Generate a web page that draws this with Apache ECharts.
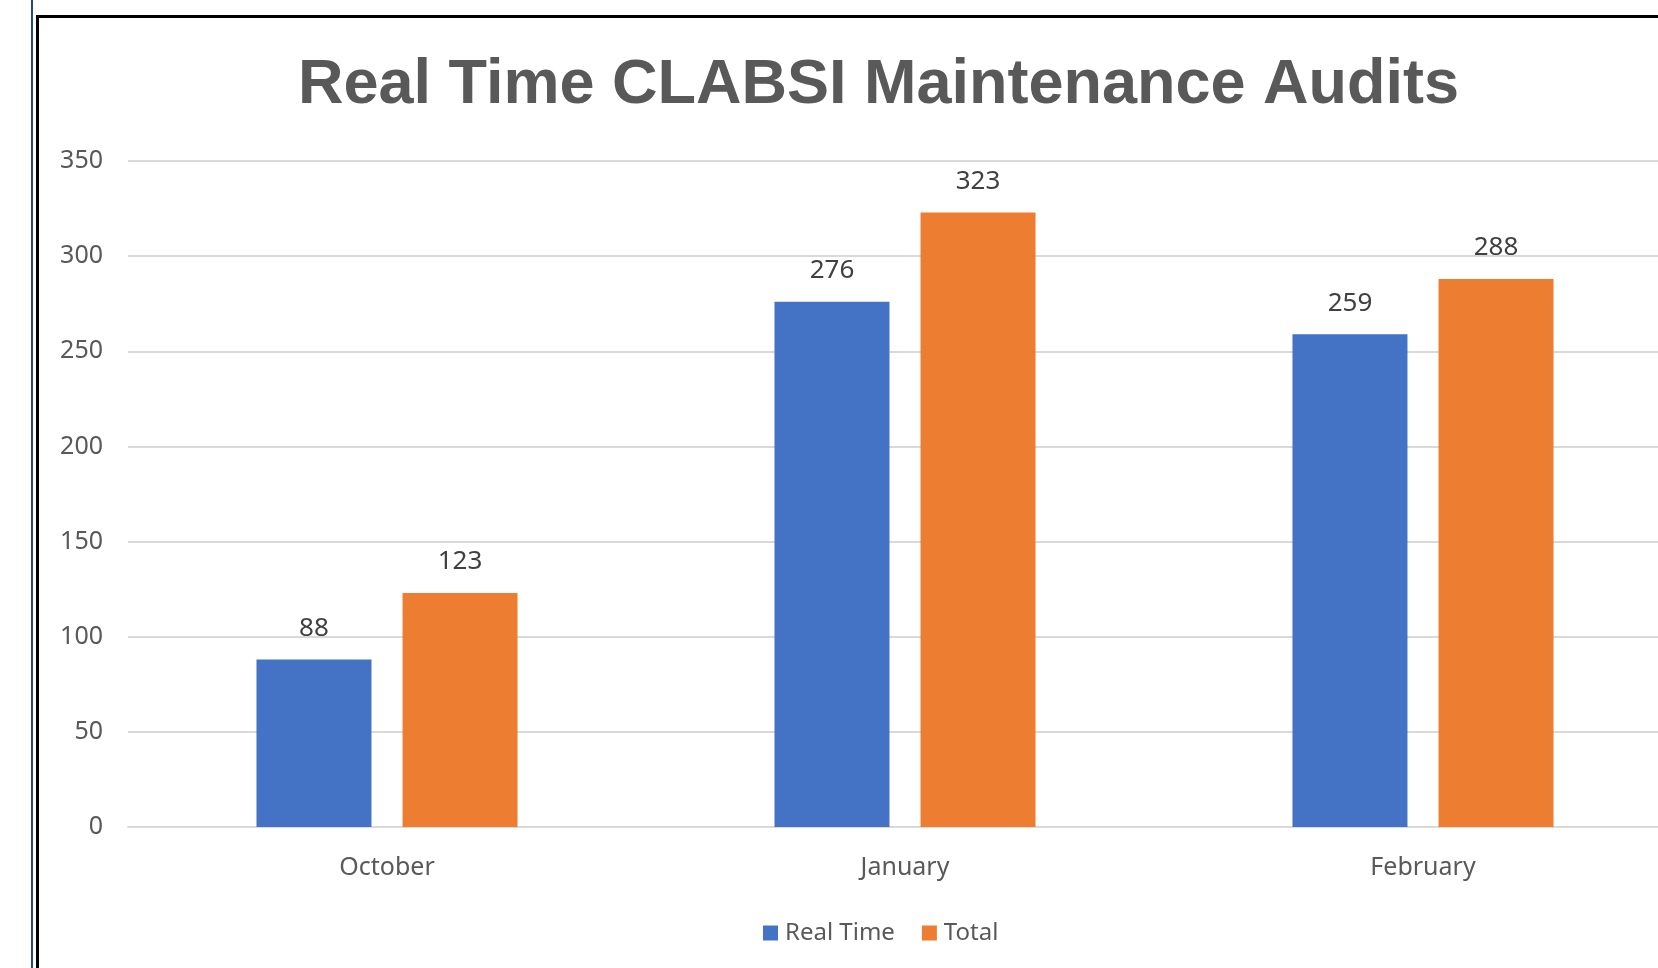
<!DOCTYPE html>
<html>
<head>
<meta charset="utf-8">
<script src="https://cdn.jsdelivr.net/npm/echarts@6/dist/echarts.min.js"></script>
<style>
html, body { margin: 0; padding: 0; background: #fff; overflow: hidden; width: 1658px; height: 968px; }
#chart { width: 1700px; height: 968px; }
</style>
</head>
<body>
<div id="chart"></div>
<script>
const titleText = 'Real Time CLABSI Maintenance Audits';
const categories = ['October', 'January', 'February'];
const realTime = [88, 276, 259];
const total = [123, 323, 288];
const seriesNames = ['Real Time', 'Total'];
const yTicks = { min: 0, max: 350, interval: 50 };

const chart = echarts.init(document.getElementById('chart'), null, { renderer: 'canvas' });
const labelFont = '"Noto Sans", "Open Sans", sans-serif';
const textGray = '#595959';

chart.setOption({
  animation: false,
  backgroundColor: '#ffffff',
  title: {
    text: titleText,
    left: 293,
    top: 49,
    textStyle: {
      fontFamily: '"Liberation Sans", Arial, sans-serif',
      fontWeight: 'bold',
      fontSize: 63,
      color: textGray
    }
  },
  legend: {
    data: seriesNames,
    left: 758,
    top: 916,
    itemWidth: 15,
    itemHeight: 15,
    itemGap: 27,
    icon: 'rect',
    textStyle: { fontFamily: labelFont, fontSize: 24, color: textGray, padding: [0, 0, 0, 2] }
  },
  grid: { left: 128, top: 161, width: 1554, height: 666, outerBoundsMode: 'none' },
  xAxis: {
    type: 'category',
    data: categories,
    axisLine: { show: true, lineStyle: { color: '#D9D9D9', width: 2 } },
    axisTick: { show: false },
    axisLabel: { fontFamily: labelFont, fontSize: 25, color: textGray, margin: 28 }
  },
  yAxis: {
    type: 'value',
    min: yTicks.min,
    max: yTicks.max,
    interval: yTicks.interval,
    axisLine: { show: false },
    axisTick: { show: false },
    splitLine: { lineStyle: { color: '#D9D9D9', width: 2 } },
    axisLabel: { fontFamily: labelFont, fontSize: 25, color: textGray, margin: 25 }
  },
  series: [
    {
      name: seriesNames[0],
      type: 'bar',
      data: realTime,
      barWidth: 115,
      barGap: '27%',
      itemStyle: { color: '#4472C4' },
      label: { show: true, position: 'top', distance: 18, fontFamily: labelFont, fontSize: 26, color: '#404040' }
    },
    {
      name: seriesNames[1],
      type: 'bar',
      data: total,
      barWidth: 115,
      barGap: '27%',
      itemStyle: { color: '#ED7D31' },
      label: { show: true, position: 'top', distance: 18, fontFamily: labelFont, fontSize: 26, color: '#404040' }
    }
  ],
  graphic: [
    { type: 'rect', shape: { x: 31, y: 0, width: 2, height: 968 }, style: { fill: '#1F4E79' }, z: 100 },
    { type: 'rect', shape: { x: 36, y: 16, width: 3, height: 952 }, style: { fill: '#000000' }, z: 100 },
    { type: 'rect', shape: { x: 36, y: 15, width: 1664, height: 3 }, style: { fill: '#000000' }, z: 100 }
  ]
});
</script>
</body>
</html>
